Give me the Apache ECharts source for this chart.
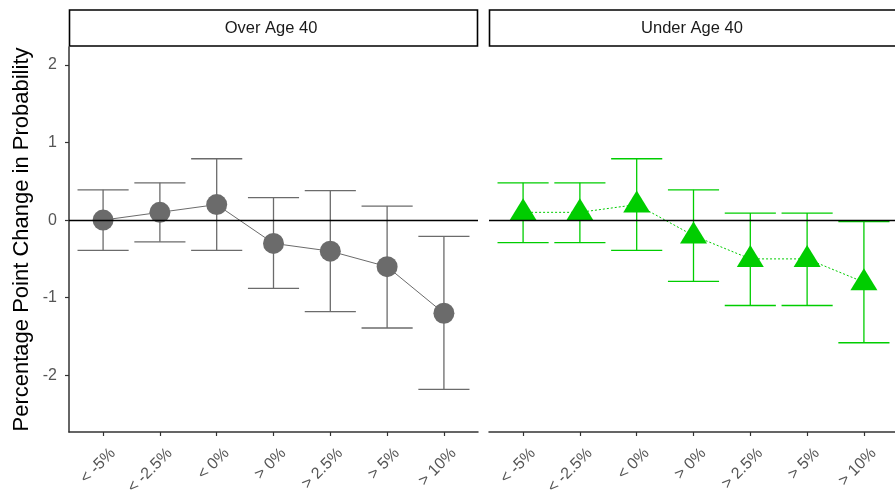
<!DOCTYPE html>
<html>
<head>
<meta charset="utf-8">
<script src="https://cdn.jsdelivr.net/npm/echarts@6/dist/echarts.min.js"></script>
<style>html,body{margin:0;padding:0;background:#fff}#c{width:895px;height:495px}</style>
</head>
<body>
<div id="c"></div>
<script>
const categories = ['< -5%', '< -2.5%', '< 0%', '> 0%', '> 2.5%', '> 5%', '> 10%'];
const panels = ['Over Age 40', 'Under Age 40'];
const overEst = [0, 0.1, 0.2, -0.3, -0.4, -0.6, -1.2];
const overLow = [-0.39, -0.28, -0.39, -0.88, -1.18, -1.39, -2.18];
const overHigh = [0.39, 0.48, 0.79, 0.29, 0.38, 0.18, -0.21];
const underEst = [0.1, 0.1, 0.2, -0.2, -0.5, -0.5, -0.8];
const underLow = [-0.29, -0.29, -0.39, -0.79, -1.1, -1.1, -1.58];
const underHigh = [0.48, 0.48, 0.79, 0.39, 0.09, 0.09, -0.02];
const yTicks = [-2, -1, 0, 1, 2];

const chart = echarts.init(document.getElementById('c'));
const idx = categories.map((_, i) => i);
const FONT = 'Liberation Sans, Arial, sans-serif';

function errItem(params, api, color) {
  const x = api.value(0), lo = api.value(1), hi = api.value(2);
  const pLo = api.coord([x, lo]);
  const pHi = api.coord([x, hi]);
  const half = api.size([0.45, 0])[0];
  const st = { stroke: color, lineWidth: 1.3 };
  return {
    type: 'group',
    children: [
      { type: 'line', shape: { x1: pLo[0], y1: pLo[1], x2: pHi[0], y2: pHi[1] }, style: st },
      { type: 'line', shape: { x1: pHi[0] - half, y1: pHi[1], x2: pHi[0] + half, y2: pHi[1] }, style: st },
      { type: 'line', shape: { x1: pLo[0] - half, y1: pLo[1], x2: pLo[0] + half, y2: pLo[1] }, style: st }
    ]
  };
}

function xAxis(gi) {
  return {
    type: 'value', gridIndex: gi, min: -0.6, max: 6.6,
    splitLine: { show: false },
    axisLine: { show: true, onZero: false, lineStyle: { color: '#333', width: 1.5 } },
    axisTick: { show: true, customValues: idx, length: 4, lineStyle: { color: '#333', width: 1.2 } },
    axisLabel: {
      customValues: idx, rotate: 45, margin: 9,
      align: 'right', verticalAlign: 'top', padding: [6, 0, 0, 0],
      color: '#555', fontSize: 16, fontFamily: FONT,
      formatter: v => categories[Math.round(v)]
    }
  };
}

const grids = [
  { left: 69, top: 47, width: 409, height: 385, outerBoundsMode: 'none', containLabel: false },
  { left: 489, top: 47, width: 409, height: 385, outerBoundsMode: 'none', containLabel: false }
];

const zeroLine = {
  silent: true, symbol: 'none', label: { show: false },
  lineStyle: { color: '#000', width: 1.3, type: 'solid' },
  data: [{ yAxis: 0 }]
};

chart.setOption({
  animation: false,
  backgroundColor: '#fff',
  grid: grids,
  xAxis: [xAxis(0), xAxis(1)],
  yAxis: [
    {
      type: 'value', gridIndex: 0, min: -2.73, max: 2.23,
      name: 'Percentage Point Change in Probability',
      nameLocation: 'middle', nameGap: 36, nameRotate: 90,
      nameTextStyle: { color: '#000', fontSize: 22, fontFamily: FONT },
      splitLine: { show: false },
      axisLine: { show: true, onZero: false, lineStyle: { color: '#333', width: 1.5 } },
      axisTick: { show: true, customValues: yTicks, length: 4, lineStyle: { color: '#333', width: 1.2 } },
      axisLabel: { customValues: yTicks, color: '#555', fontSize: 16, fontFamily: FONT, margin: 12 }
    },
    {
      type: 'value', gridIndex: 1, min: -2.73, max: 2.23,
      splitLine: { show: false }, axisLine: { show: false },
      axisTick: { show: false }, axisLabel: { show: false }
    }
  ],
  series: [
    {
      type: 'custom', xAxisIndex: 0, yAxisIndex: 0, z: 1,
      renderItem: (p, api) => errItem(p, api, '#6b6b6b'),
      data: idx.map(i => [i, overLow[i], overHigh[i]])
    },
    {
      type: 'line', xAxisIndex: 0, yAxisIndex: 0, z: 3,
      data: idx.map(i => [i, overEst[i]]),
      symbol: 'circle', symbolSize: 21,
      itemStyle: { color: '#6b6b6b' },
      lineStyle: { color: '#6b6b6b', width: 1 },
      markLine: zeroLine
    },
    {
      type: 'custom', xAxisIndex: 1, yAxisIndex: 1, z: 1,
      renderItem: (p, api) => errItem(p, api, '#00cd00'),
      data: idx.map(i => [i, underLow[i], underHigh[i]])
    },
    {
      type: 'line', xAxisIndex: 1, yAxisIndex: 1, z: 3,
      data: idx.map(i => [i, underEst[i]]),
      symbol: 'triangle', symbolSize: [27, 22], symbolOffset: [0, -3],
      itemStyle: { color: '#00cd00' },
      lineStyle: { color: '#00cd00', width: 1, type: [2, 2] },
      markLine: zeroLine
    }
  ],
  graphic: [
    { type: 'rect', shape: { x: 69.5, y: 10, width: 408, height: 36 }, style: { fill: '#fff', stroke: '#000', lineWidth: 1.6 } },
    { type: 'text', x: 271, y: 28, style: { text: panels[0], fill: '#1a1a1a', font: '16.5px ' + FONT, align: 'center', verticalAlign: 'middle' } },
    { type: 'rect', shape: { x: 489.5, y: 10, width: 412, height: 36 }, style: { fill: '#fff', stroke: '#000', lineWidth: 1.6 } },
    { type: 'text', x: 692, y: 28, style: { text: panels[1], fill: '#1a1a1a', font: '16.5px ' + FONT, align: 'center', verticalAlign: 'middle' } }
  ]
});
</script>
</body>
</html>
